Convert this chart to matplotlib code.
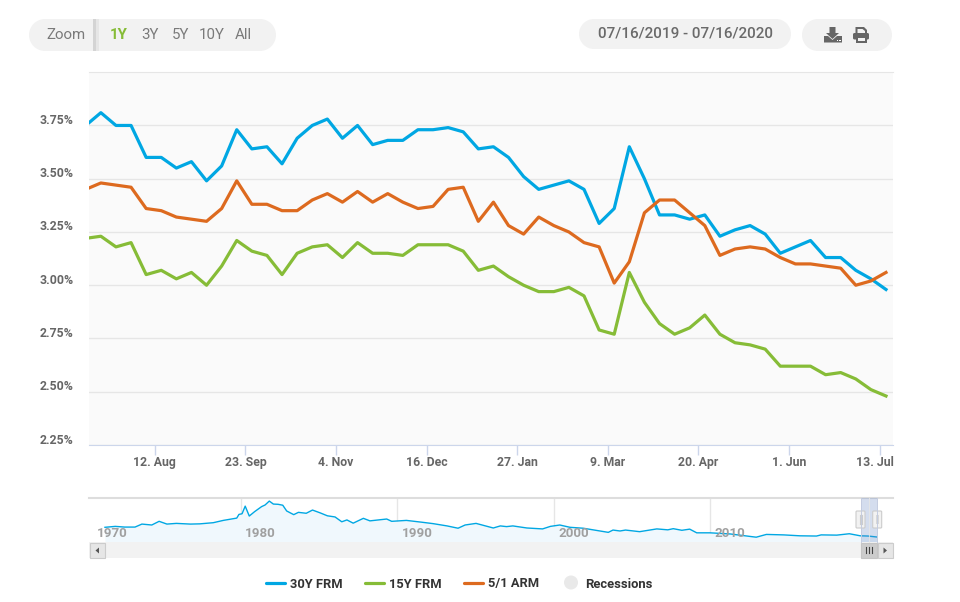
import pandas as pd
from matplotlib import pyplot as plt
from matplotlib.patches import FancyBboxPatch, Rectangle, Polygon, Circle
from matplotlib.transforms import ScaledTranslation

plt.rcParams['font.family'] = ['Roboto', 'DejaVu Sans']

# weekly survey values, first one is cut by the left edge of the plot
weeks = pd.date_range(end="2020-07-16", periods=54, freq="7D")
frm30 = [3.75,3.81,3.75,3.75,3.60,3.60,3.55,3.58,3.49,3.56,3.73,3.64,3.65,3.57,3.69,3.75,3.78,3.69,
         3.75,3.66,3.68,3.68,3.73,3.73,3.74,3.72,3.64,3.65,3.60,3.51,3.45,3.47,3.49,3.45,3.29,3.36,
         3.65,3.50,3.33,3.33,3.31,3.33,3.23,3.26,3.28,3.24,3.15,3.18,3.21,3.13,3.13,3.07,3.03,2.98]
frm15 = [3.22,3.23,3.18,3.20,3.05,3.07,3.03,3.06,3.00,3.09,3.21,3.16,3.14,3.05,3.15,3.18,3.19,3.13,
         3.20,3.15,3.15,3.14,3.19,3.19,3.19,3.16,3.07,3.09,3.04,3.00,2.97,2.97,2.99,2.95,2.79,2.77,
         3.06,2.92,2.82,2.77,2.80,2.86,2.77,2.73,2.72,2.70,2.62,2.62,2.62,2.58,2.59,2.56,2.51,2.48]
arm51 = [3.45,3.48,3.47,3.46,3.36,3.35,3.32,3.31,3.30,3.36,3.49,3.38,3.38,3.35,3.35,3.40,3.43,3.39,
         3.44,3.39,3.43,3.39,3.36,3.37,3.45,3.46,3.30,3.39,3.28,3.24,3.32,3.28,3.25,3.20,3.18,3.01,
         3.11,3.34,3.40,3.40,3.34,3.28,3.14,3.17,3.18,3.17,3.13,3.10,3.10,3.09,3.08,3.00,3.02,3.06]

y_ticks = [2.25,2.50,2.75,3.00,3.25,3.50,3.75]
y_labels = ["2.25%","2.50%","2.75%","3.00%","3.25%","3.50%","3.75%"]
x_tick_dates = ["2019-08-12","2019-09-23","2019-11-04","2019-12-16","2020-01-27",
                "2020-03-09","2020-04-20","2020-06-01","2020-07-13"]
x_labels = ["12. Aug","23. Sep","4. Nov","16. Dec","27. Jan","9. Mar","20. Apr","1. Jun","13. Jul"]

# history in the navigator strip: year, 30Y rate
nav_years = [1971.34,1972.0,1972.6,1973.26,1973.7,1974.33,1974.8,1975.3,1975.9,1976.8,1977.4,1978.26,
             1978.9,1979.76,1979.9,1980.1,1980.3,1980.56,1980.9,1981.35,1981.57,1981.84,1982.1,1982.4,
             1982.7,1982.95,1983.4,1983.7,1984.2,1984.6,1985.08,1985.55,1986.04,1986.47,1986.8,1987.2,
             1987.85,1988.27,1989.34,1989.66,1990.6,1991.6,1992.3,1993.2,1993.9,1994.35,1995.05,1996.15,
             1996.6,1997.0,1997.4,1998.3,1999.3,1999.8,2000.4,2001.05,2001.9,2003.5,2003.8,2004.25,
             2004.6,2005.5,2006.6,2007.3,2007.65,2008.2,2008.7,2009.15,2010.0,2011.3,2012.95,2013.6,
             2014.7,2015.75,2016.8,2017.1,2018.1,2018.9,2019.6,2020.1,2020.66]
nav_rates = [7.2,7.6,7.3,7.3,8.6,8.2,9.8,8.6,8.9,8.6,8.7,9.2,
             10.2,11.2,12.8,13.1,16.4,12.1,14.0,16.2,16.9,18.6,17.3,17.2,
             16.8,14.3,12.7,13.7,13.3,14.7,13.5,12.2,11.7,9.6,10.4,9.0,
             11.1,10.0,10.8,9.8,10.2,9.4,8.8,7.8,6.8,8.2,8.9,6.9,
             7.8,7.5,7.8,6.9,6.5,7.6,8.2,7.2,6.8,5.0,6.0,5.6,
             6.0,5.3,6.5,6.1,6.6,5.9,6.4,4.8,4.8,4.3,2.9,4.1,
             3.9,3.5,3.4,3.9,3.8,4.4,3.5,3.4,2.98]
nav_ticks = [1980,1990,2000,2010]

BLUE = "#00a7e3"
GREEN = "#86bc37"
ORANGE = "#dd6a1f"
GRAY = "#666666"
W, H = 960, 602

def px_axes(x0, y0, x1, y1, **kw):
    return fig.add_axes([x0/W, 1-y1/H, (x1-x0)/W, (y1-y0)/H], **kw)

fig = plt.figure(figsize=(9.6, 6.02), dpi=100)

# main chart
ax = px_axes(89, 72.2, 893, 445, facecolor="#fafafa")
ax.plot(weeks, frm30, color=BLUE, lw=2.3)
ax.plot(weeks, frm15, color=GREEN, lw=2.3)
ax.plot(weeks, arm51, color=ORANGE, lw=2.3)
ax.set_ylim(2.25, 4.0)
ax.set_xlim(pd.Timestamp("2019-07-12 12:00"), pd.Timestamp("2020-07-19 06:00"))
ax.set_yticks(y_ticks)
ax.set_yticklabels(y_labels, fontsize=8.8, fontweight="bold", color=GRAY, va="bottom")
ax.set_xticks(pd.to_datetime(x_tick_dates))
ax.set_xticklabels(x_labels, fontsize=8.8, fontweight="bold", color=GRAY)
ax.tick_params(axis="y", length=0, pad=11)
ax.tick_params(axis="x", length=7.2, width=1, color="#ccd6eb", pad=1)
ax.grid(axis="y", color="#e6e6e6", lw=1)
ax.set_axisbelow(True)
for s in ["left", "right"]:
    ax.spines[s].set_visible(False)
ax.spines["top"].set_color("#e6e6e6")
ax.spines["bottom"].set_color("#ccd6eb")
# last label is pushed in so it stays inside the plot width
last = ax.get_xticklabels()[-1]
last.set_transform(last.get_transform() + ScaledTranslation(-0.05, 0, fig.dpi_scale_trans))
for lab in ax.get_yticklabels():
    lab.set_transform(lab.get_transform() + ScaledTranslation(0, -0.015, fig.dpi_scale_trans))

# navigator
nav = px_axes(89, 498, 893, 542, facecolor="white")
nav.fill_between(nav_years, nav_rates, 0, color="#f0f8fd", lw=0)
nav.plot(nav_years, nav_rates, color=BLUE, lw=1.0)
nav.set_xlim(1970.32, 2021.69)
nav.set_ylim(0.81, 19.94)
nav.set_xticks(nav_ticks)
nav.set_xticklabels([])
nav.set_yticks([])
nav.tick_params(axis="x", length=0)
nav.grid(axis="x", color="#e6e6e6", lw=1)
nav.set_axisbelow(True)
for s in ["left", "right", "bottom"]:
    nav.spines[s].set_visible(False)
nav.spines["top"].set_color("#dddddd")
nav.spines["top"].set_linewidth(1.5)
for yr in nav_ticks:
    nav.text(yr + 0.3, 4.3, str(yr), fontsize=9.6, color="#a0a0a0", fontweight="bold", va="center")
nav.text(1970.85, 4.3, "1970", fontsize=9.6, color="#a0a0a0", fontweight="bold", va="center")

# overlay in pixel coordinates for buttons, scrollbar and legend
ui = fig.add_axes([0, 0, 1, 1], facecolor="none", zorder=5)
ui.set_xlim(0, W)
ui.set_ylim(H, 0)
ui.axis("off")

def pill(x0, y0, x1, y1):
    r = (y1-y0)/2
    ui.add_patch(Rectangle((x0+r, y0), x1-x0-2*r, y1-y0, fc="#f2f2f2", ec="none"))
    ui.add_patch(Circle((x0+r, y0+r), r, fc="#f2f2f2", ec="none"))
    ui.add_patch(Circle((x1-r, y0+r), r, fc="#f2f2f2", ec="none"))

pill(29, 19, 276, 51)
pill(579, 19, 791, 49)
pill(802, 19, 892, 51)
ui.add_patch(Rectangle((93, 19), 3, 32, fc="#d4d4d4", ec="none"))
ui.add_patch(Rectangle((96, 19), 3, 32, fc="#e6e6e6", ec="none"))

BTN = "#7a7a7a"
ui.text(66, 35, "Zoom", fontsize=10.8, color=BTN, ha="center", va="center")
ui.text(119, 35, "1Y", fontsize=10.8, color=GREEN, fontweight="bold", ha="center", va="center")
for label, x in [("3Y", 150), ("5Y", 181), ("10Y", 212), ("All", 243)]:
    ui.text(x, 35, label, fontsize=10.8, color=BTN, ha="center", va="center")
ui.text(685, 33.5, "07/16/2019 - 07/16/2020", fontsize=11, color="#6a6a6a", fontweight="medium",
        ha="center", va="center")

# download icon
ui.add_patch(Polygon([(829.5,27),(835.5,27),(835.5,33),(839,33),(832.5,39),(826,33),(829.5,33)], fc=GRAY, ec="none"))
ui.add_patch(Polygon([(824,36),(828,36),(832.5,40),(837,36),(842,36),(842,42.5),(824,42.5)], fc=GRAY, ec="none"))
ui.add_patch(Rectangle((836.5, 39.5), 1.5, 1.2, fc="white", ec="none"))
ui.add_patch(Rectangle((839, 39.5), 1.5, 1.2, fc="white", ec="none"))
# print icon
ui.add_patch(Polygon([(855.5,27),(864,27),(867,30),(867,33),(865,33),(865,31),(862.5,29),(857.5,29),(857.5,33),(855.5,33)],
                     fc=GRAY, ec="none"))
ui.add_patch(FancyBboxPatch((853, 33), 16, 6.5, boxstyle="round,pad=0,rounding_size=1.5", fc=GRAY, ec="none"))
ui.add_patch(Rectangle((855.5, 37), 11, 5.5, fc=GRAY, ec="none"))
ui.add_patch(Rectangle((857.5, 38), 7, 2.8, fc="#f2f2f2", ec="none"))

# scrollbar and range selector
ui.add_patch(Rectangle((89, 542), 804, 16, fc="#f2f2f2", ec="none"))
ui.add_patch(Rectangle((89.5, 542.5), 15.5, 15.5, fc="#e6e6e6", ec="#cccccc", lw=0.8))
ui.add_patch(Polygon([(99,547.5),(99,553.5),(95.5,550.5)], fc="#555555", ec="none"))
ui.add_patch(Rectangle((877.5, 542.5), 15.5, 15.5, fc="#e6e6e6", ec="#cccccc", lw=0.8))
ui.add_patch(Polygon([(883.5,547.5),(883.5,553.5),(887,550.5)], fc="#555555", ec="none"))
ui.add_patch(Rectangle((860.7, 542.5), 16.6, 15.5, fc="#cccccc", ec="#c4c4c4", lw=0.8))
for x in [866, 869, 872]:
    ui.plot([x, x], [547, 553], color="#444444", lw=0.8)
ui.add_patch(Rectangle((860.7, 498), 16.6, 44, fc="#6685c2", ec="none", alpha=0.28))
ui.plot([869, 869], [498, 542], color="#e6e6e6", lw=0.8, alpha=0.8)
ui.plot([860.7, 860.7], [498, 542], color="#c4cce0", lw=0.7)
ui.plot([877.3, 877.3], [498, 542], color="#c4cce0", lw=0.7)
for x0 in [856, 872.7]:
    ui.add_patch(FancyBboxPatch((x0, 511), 9, 17, boxstyle="round,pad=0,rounding_size=1", fc="#f2f2f2", ec="#cccccc", lw=0.8))
ui.plot([859.5, 859.5], [515, 524], color="#cccccc", lw=0.8)
ui.plot([861.5, 861.5], [515, 524], color="#cccccc", lw=0.8)
ui.add_patch(Rectangle((875.5, 515), 3.5, 9, fc="#d8d8d8", ec="none"))

# legend
for x0, color, label in [(265, BLUE, "30Y FRM"), (364, GREEN, "15Y FRM"), (463, ORANGE, "5/1 ARM")]:
    ui.plot([x0+1, x0+20], [583, 583], color=color, lw=2.3, solid_capstyle="round")
    ui.text(x0+25, 584, label, fontsize=9.3, fontweight="bold", color="#333333", va="center")
ui.add_patch(Circle((571, 582.5), 7, fc="#e9e9e9", ec="none"))
ui.text(585.5, 584, "Recessions", fontsize=9.4, fontweight="bold", color="#333333", va="center")

fig.savefig("out.png", dpi=100)
